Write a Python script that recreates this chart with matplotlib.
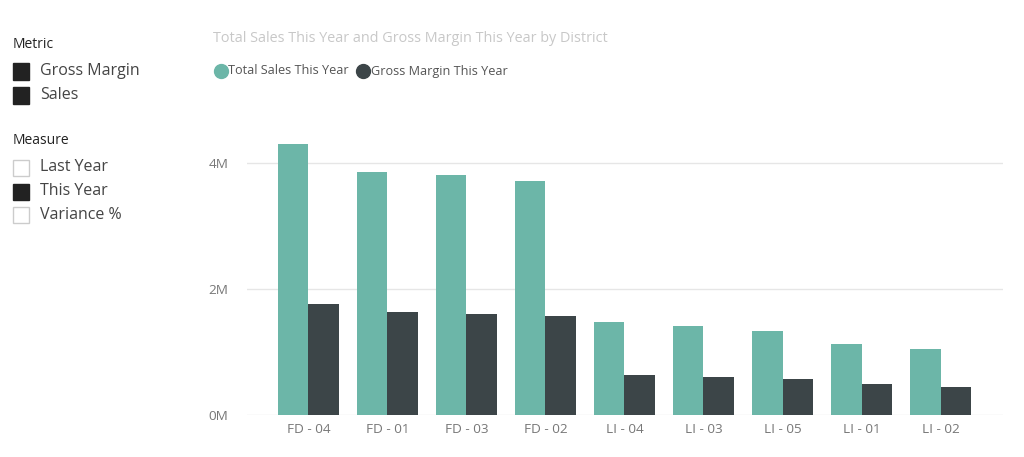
import matplotlib
matplotlib.use("Agg")
import matplotlib.pyplot as plt
from matplotlib.patches import Rectangle
from matplotlib.lines import Line2D
from matplotlib.ticker import FuncFormatter
import numpy as np

plt.rcParams['font.family'] = ['Open Sans', 'DejaVu Sans']

districts = ["FD - 04", "FD - 01", "FD - 03", "FD - 02", "LI - 04", "LI - 03", "LI - 05", "LI - 01", "LI - 02"]
total_sales = [4300000, 3850000, 3810000, 3720000, 1470000, 1410000, 1330000, 1120000, 1050000]
gross_margin = [1760000, 1630000, 1600000, 1570000, 635000, 600000, 576000, 490000, 440000]
y_ticks = [0, 2000000, 4000000]
title = "Total Sales This Year and Gross Margin This Year by District"
series_names = ["Total Sales This Year", "Gross Margin This Year"]
metric_items = ["Gross Margin", "Sales"]
metric_checked = [True, True]
measure_items = ["Last Year", "This Year", "Variance %"]
measure_checked = [False, True, False]

TEAL = "#6CB6A8"
DARK = "#3C4548"
series_colors = [TEAL, DARK]

W, H = 1024, 457
fig = plt.figure(figsize=(W / 100, H / 100), dpi=100)
fig.patch.set_facecolor("white")

ax = fig.add_axes([246.7 / W, 1 - 415 / H, (1003 - 246.7) / W, 4.6e6 * 63e-6 / H])
x = np.arange(len(districts))
bw = 0.39
ax.bar(x - bw / 2, total_sales, width=bw, color=TEAL, zorder=3)
ax.bar(x + bw / 2, gross_margin, width=bw, color=DARK, zorder=3)
ax.set_xlim(-0.78, len(districts) - 1 + 0.79)
ax.set_ylim(0, 4.6e6)
ax.set_yticks(y_ticks)
ax.yaxis.set_major_formatter(FuncFormatter(lambda v, p: f"{v/1e6:.0f}M"))
ax.set_xticks(x)
ax.set_xticklabels(districts)
for s in ax.spines.values():
    s.set_visible(False)
ax.grid(axis="y", color="#E6E6E6", linewidth=1, zorder=0)
ax.tick_params(axis="both", length=0, colors="#777777", labelsize=9.7)
ax.tick_params(axis="y", pad=13)
ax.tick_params(axis="x", pad=6)

fig.text(213 / W, 1 - 38.5 / H, title, color="#C8C8C8", fontsize=10.35, va="center", ha="left")

# custom legend (circle markers + labels)
renderer = fig.canvas.get_renderer()
lx = 220.5
ly = 1 - 71 / H
for name, col in zip(series_names, series_colors):
    fig.add_artist(Line2D([lx / W], [ly + 0.5 / H], transform=fig.transFigure, marker="o", linestyle="none",
                          markersize=10, color=col))
    t = fig.text((lx + 7.5) / W, ly, name, fontsize=9.1, color="#555555", va="center", ha="left")
    bb = t.get_window_extent(renderer)
    lx = bb.x1 + 8 + 6.5

def slicer(header, y0, items, checked):
    fig.text(13 / W, 1 - y0 / H, header, fontsize=10, color="#222222", va="center", ha="left")
    for i, (name, c) in enumerate(zip(items, checked)):
        yc = y0 + 27 + i * 24
        rect = Rectangle((13 / W, 1 - (yc + 8.5) / H), 16 / W, 16 / H, transform=fig.transFigure,
                         facecolor="#222222" if c else "white",
                         edgecolor="#222222" if c else "#CCCCCC", linewidth=1)
        fig.patches.append(rect)
        fig.text(40 / W, 1 - yc / H, name, fontsize=11.5, color="#444444", va="center", ha="left")

slicer("Metric", 44, metric_items, metric_checked)
slicer("Measure", 140, measure_items, measure_checked)

fig.savefig("out.png", dpi=100)
